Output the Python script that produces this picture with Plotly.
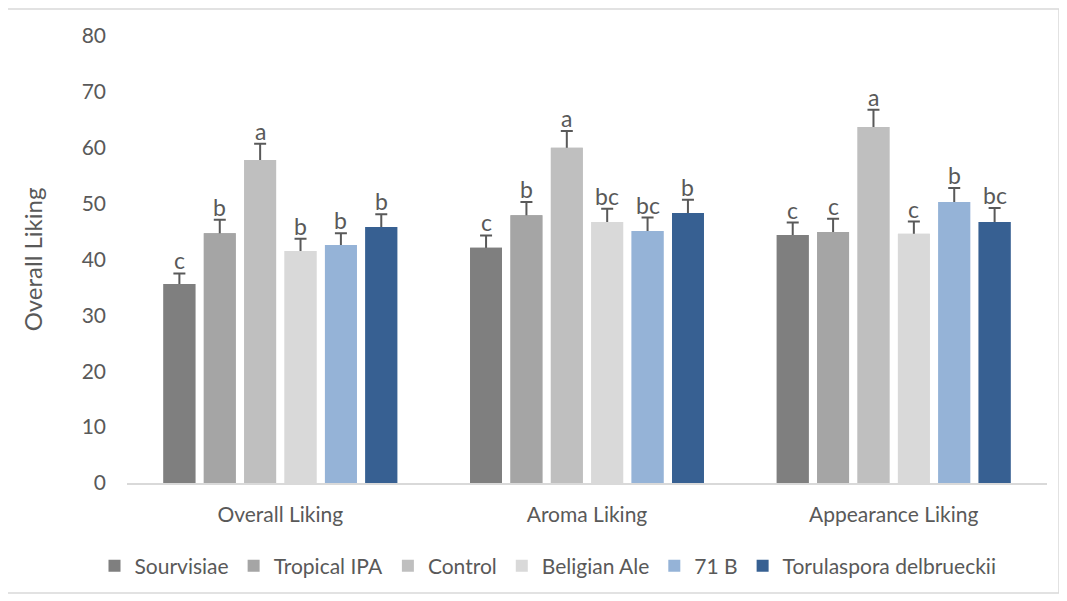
import plotly.graph_objects as go

categories = ["Overall Liking", "Aroma Liking", "Appearance Liking"]
series = ["Sourvisiae", "Tropical IPA", "Control", "Beligian Ale", "71 B", "Torulaspora delbrueckii"]
colors = ["#7f7f7f", "#a5a5a5", "#bfbfbf", "#d9d9d9", "#95b3d7", "#376092"]

values = {
    "Sourvisiae":              [35.6, 42.1, 44.4],
    "Tropical IPA":            [44.7, 47.9, 44.9],
    "Control":                 [57.8, 60.0, 63.7],
    "Beligian Ale":            [41.5, 46.7, 44.6],
    "71 B":                    [42.6, 45.1, 50.3],
    "Torulaspora delbrueckii": [45.8, 48.3, 46.7],
}
errors = {
    "Sourvisiae":              [1.9, 2.2, 2.2],
    "Tropical IPA":            [2.4, 2.4, 2.4],
    "Control":                 [2.9, 3.0, 3.1],
    "Beligian Ale":            [2.2, 2.4, 2.2],
    "71 B":                    [2.1, 2.4, 2.5],
    "Torulaspora delbrueckii": [2.3, 2.4, 2.5],
}
letters = {
    "Sourvisiae":              ["c", "c", "c"],
    "Tropical IPA":            ["b", "b", "c"],
    "Control":                 ["a", "a", "a"],
    "Beligian Ale":            ["b", "bc", "c"],
    "71 B":                    ["b", "bc", "b"],
    "Torulaspora delbrueckii": ["b", "b", "bc"],
}

FONT = "Lato, 'Open Sans', sans-serif"
TXT = "#595959"

# page body has an 8px margin; size the figure so it fills the 1067x601 window
OFF = 8
W, H = 1067 - OFF, 601 - OFF
ml, mr, mt, mb = 127 - OFF, 20, 36 - OFF, 118
plot_w = W - ml - mr
plot_h = H - mt - mb
bargap = 0.21
bargroupgap = 0.21

fig = go.Figure()
# error bars first (symmetric, lower half hidden behind the opaque bars drawn next)
for s, c in zip(series, colors):
    fig.add_trace(go.Bar(
        name=s, x=categories, y=values[s], marker_color=c, offsetgroup=s,
        marker_line_width=0, showlegend=False, hoverinfo="skip",
        error_y=dict(type="data", array=errors[s], symmetric=True,
                     color="#595959", thickness=2, width=6),
    ))
for s, c in zip(series, colors):
    fig.add_trace(go.Bar(
        name=s, x=categories, y=values[s], marker_color=c, offsetgroup=s,
        marker_line_width=0,
    ))

cat_w = plot_w / len(categories)
slot = cat_w * (1 - bargap) / len(series)
n = len(series)
for i, s in enumerate(series):
    shift = (i - (n - 1) / 2) * slot
    for j, cat in enumerate(categories):
        fig.add_annotation(
            x=cat, y=values[s][j] + errors[s][j], text=letters[s][j],
            xshift=shift, yshift=-3, yanchor="bottom", showarrow=False,
            font=dict(family=FONT, size=23, color=TXT),
        )

# outer chart border (page px -> paper coords)
def px_x(p):
    return (p - OFF - ml) / plot_w

def px_y(p):
    return (H - mb - (p - OFF)) / plot_h

fig.add_shape(type="rect", xref="paper", yref="paper",
              x0=px_x(7), x1=px_x(1059), y0=px_y(593), y1=px_y(9),
              line=dict(color="#d9d9d9", width=1.5), layer="below")

fig.update_layout(
    width=W, height=H,
    margin=dict(l=ml, r=mr, t=mt, b=mb, autoexpand=False),
    barmode="group", bargap=bargap, bargroupgap=bargroupgap,
    plot_bgcolor="white", paper_bgcolor="white",
    font=dict(family=FONT, size=21, color=TXT),
    showlegend=True,
    legend=dict(orientation="h", x=px_x(548), xanchor="center", y=px_y(566), yanchor="middle",
                font=dict(family=FONT, size=21, color=TXT), itemsizing="constant",
                traceorder="normal", itemwidth=30),
    xaxis=dict(showline=True, linecolor="#d9d9d9", linewidth=1.5, showgrid=False,
               ticks="", tickfont=dict(size=21, color=TXT), ticklabelstandoff=12),
    yaxis=dict(range=[0, 80], dtick=10, showgrid=False, showline=False, zeroline=False,
               ticks="", tickfont=dict(size=21, color=TXT), ticklabelstandoff=20,
               title=dict(text="Overall Liking", font=dict(size=24, color=TXT), standoff=32)),
)

fig.write_html("out.html")
